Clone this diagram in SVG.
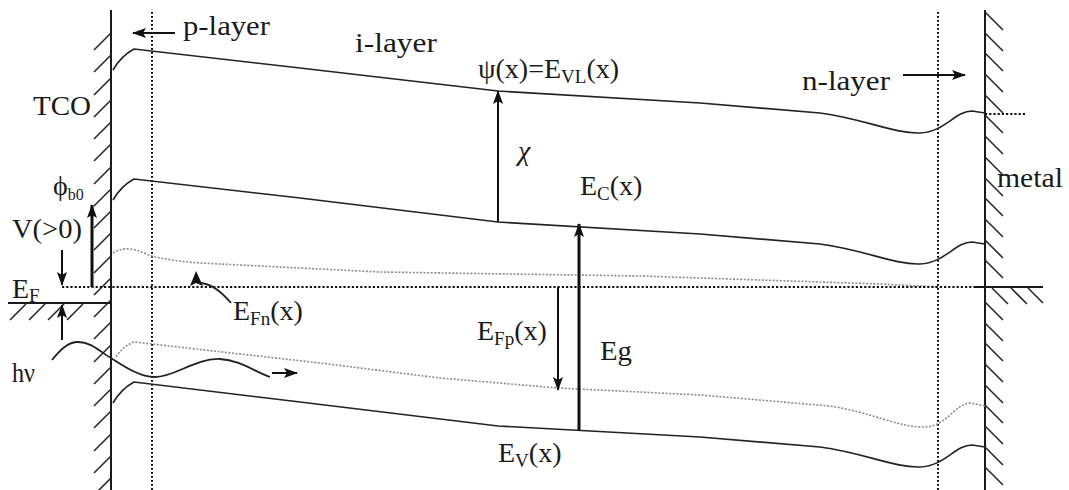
<svg xmlns="http://www.w3.org/2000/svg" width="1069" height="490" viewBox="0 0 1069 490">
<style>
text{font-family:"Liberation Serif","Times New Roman",serif;fill:#1a1a1a;font-size:28px}
.wall{stroke:#1a1a1a;stroke-width:2;fill:none}
.hatch{stroke:#2a2a2a;stroke-width:1.6;fill:none}
.band{stroke:#222;stroke-width:1.6;fill:none}
.vdot{stroke:#000;stroke-width:2;stroke-dasharray:1.8,2.2;fill:none}
.ef{stroke:#111;stroke-width:1.8;stroke-dasharray:2.2,2;fill:none}
.qf{stroke:#8c8c8c;stroke-width:1.6;stroke-dasharray:2,1.6;fill:none}
.arr{stroke:#111;fill:none;marker-end:url(#ah)}
</style>
<defs>
<marker id="ah" viewBox="0 0 14 10" refX="13" refY="5" markerWidth="14" markerHeight="10" orient="auto" markerUnits="userSpaceOnUse">
<path d="M0,0 L14,5 L0,10 L3,5 z" fill="#111"/>
</marker>
</defs>
<rect width="1069" height="490" fill="#fff"/>

<g id="tco-wall">
<line class="wall" x1="111" y1="10" x2="111" y2="490"/>
<path class="hatch" d="M111,33 l-17,17 M111,55 l-17,17 M111,78 l-17,17 M111,100 l-17,17 M111,122 l-17,17 M111,144 l-17,17 M111,167 l-17,17 M111,189 l-17,17 M111,211 l-17,17 M111,233 l-17,17 M111,256 l-17,17 M111,278 l-17,17 M111,300 l-17,17 M111,322 l-17,17 M111,345 l-17,17 M111,367 l-17,17 M111,389 l-17,17 M111,411 l-17,17 M111,434 l-17,17 M111,456 l-17,17 M111,478 l-17,17"/>
<line class="wall" x1="8" y1="303" x2="111" y2="303"/>
<path class="hatch" d="M26,304 l-16,16 M45,304 l-16,16 M64,304 l-16,16 M83,304 l-16,16"/>
</g>

<g id="metal-wall">
<line class="wall" x1="985" y1="10" x2="985" y2="490"/>
<path class="hatch" d="M985,12 l18,18 M985,33 l18,18 M985,53 l18,18 M985,74 l18,18 M985,95 l18,18 M985,115 l18,18 M985,136 l18,18 M985,157 l18,18 M985,178 l18,18 M985,198 l18,18 M985,219 l18,18 M985,240 l18,18 M985,260 l18,18 M985,302 l18,18 M985,323 l18,18 M985,343 l18,18 M985,364 l18,18 M985,385 l18,18 M985,405 l18,18 M985,426 l18,18 M985,447 l18,18 M985,467 l18,18"/>
<line class="wall" x1="975" y1="287" x2="1043" y2="287"/>
<path class="hatch" d="M992,288 l16,16 M1011,288 l16,16 M1028,288 l15,15"/>
<line class="ef" x1="985" y1="114" x2="1027" y2="114"/>
</g>

<g id="layer-bounds">
<line class="vdot" x1="152" y1="12" x2="152" y2="490"/>
<line class="vdot" x1="938" y1="12" x2="938" y2="490"/>
</g>

<g id="bands">
<path id="vacuum" class="band" d="M113,70 Q121,56 134,49 L300,68 L498,91 L700,103 L820,113 C865,119 895,134 920,133 C945,132 955,111 972,111 L985,113"/>
<path id="ec" class="band" d="M113,200 Q121,186 134,179 L300,198 L498,222 L700,234 L820,244 C865,250 895,265 920,264 C945,263 955,242 972,242 L985,244"/>
<path id="ev" class="band" d="M113,403 Q121,389 134,382 L300,402 L498,426 L700,437 L820,447 C865,453 895,468 920,467 C945,466 955,445 972,445 L985,447"/>
<path id="efn" class="qf" d="M113,253 Q121,248 130,249 C140,250 147,255 155,257 C170,260 185,262 200,263 L380,272 L640,276 L880,284 L938,287"/>
<path id="efp" class="qf" d="M116,357 Q123,346 134,342 L320,363 L440,378 L558,388 L700,395 L830,406 C870,412 900,428 925,427 C947,426 955,404 970,403 L985,406"/>
<line id="ef" class="ef" x1="62" y1="287" x2="985" y2="287"/>
</g>

<g id="connectors">
<line class="arr" stroke-width="2" x1="175" y1="33" x2="133" y2="33"/>
<line class="arr" stroke-width="2" x1="903" y1="75" x2="965" y2="75"/>
<line class="arr" stroke-width="2" x1="498" y1="222" x2="498" y2="91"/>
<line class="arr" stroke-width="3" x1="579" y1="430" x2="579" y2="224"/>
<line class="arr" stroke-width="2" x1="558" y1="287" x2="558" y2="390"/>
<line class="arr" stroke-width="3" x1="92" y1="287" x2="92" y2="205"/>
<line class="arr" stroke-width="2" x1="62" y1="250" x2="62" y2="285"/>
<line class="arr" stroke-width="2" x1="62" y1="340" x2="62" y2="305"/>
<path d="M196,271 L190,286 L196,283 L203,286 z" fill="#111"/>
<path d="M199,283 C210,283 220,290 231,303" stroke="#222" stroke-width="1.8" fill="none"/>
<path id="hv-wave" d="M52,360 C60,350 68,342 78,342 C92,342 100,352 111,358 C125,367 140,377 155,377 C175,377 195,358 220,359 C240,360 255,372 270,377" stroke="#222" stroke-width="1.8" fill="none"/>
<line class="arr" stroke-width="2" x1="272" y1="373" x2="297" y2="373"/>
</g>

<g id="labels">
<text x="183" y="35" font-size="31" textLength="87" lengthAdjust="spacingAndGlyphs">p-layer</text>
<text x="355" y="52" font-size="31" textLength="82" lengthAdjust="spacingAndGlyphs">i-layer</text>
<text x="802" y="90" font-size="31" textLength="88" lengthAdjust="spacingAndGlyphs">n-layer</text>
<text x="33" y="115" font-size="29" textLength="58" lengthAdjust="spacingAndGlyphs">TCO</text>
<text x="997" y="187" font-size="30" textLength="66" lengthAdjust="spacingAndGlyphs">metal</text>
<text x="12" y="238" font-size="29" textLength="70" lengthAdjust="spacingAndGlyphs">V(&gt;0)</text>
<text x="12" y="382" font-size="28" textLength="23" lengthAdjust="spacingAndGlyphs">hν</text>
<text x="600" y="360" font-size="29" textLength="32" lengthAdjust="spacingAndGlyphs">Eg</text>
<text x="518" y="160" font-size="30" font-style="italic">χ</text>
<text x="53" y="195" font-size="20">ϕ<tspan font-size="16" dy="5">b0</tspan></text>
<text x="12" y="298">E<tspan font-size="19" dy="4">F</tspan></text>
<text x="478" y="78">ψ(x)=E<tspan font-size="19" dy="5">VL</tspan><tspan dy="-5">(x)</tspan></text>
<text x="580" y="195">E<tspan font-size="19" dy="5">C</tspan><tspan dy="-5">(x)</tspan></text>
<text x="233" y="320">E<tspan font-size="19" dy="5">Fn</tspan><tspan dy="-5">(x)</tspan></text>
<text x="477" y="340">E<tspan font-size="19" dy="5">Fp</tspan><tspan dy="-5">(x)</tspan></text>
<text x="498" y="462">E<tspan font-size="19" dy="5">V</tspan><tspan dy="-5">(x)</tspan></text>
</g>
</svg>
